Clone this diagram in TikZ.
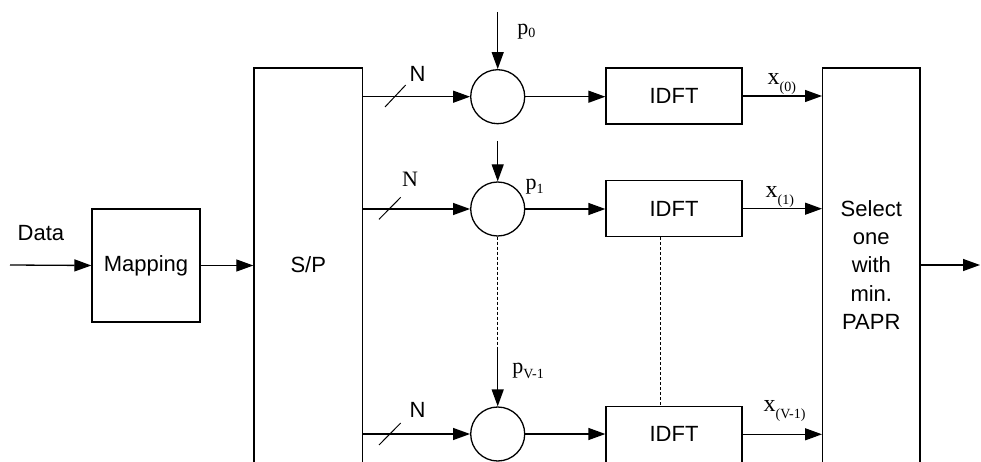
\documentclass[tikz,border=0pt]{standalone}
\usepackage{fontspec}
\setmainfont{Liberation Serif}
\newfontfamily\arialf{Liberation Sans}
\usetikzlibrary{arrows.meta}
\newcommand{\sublab}[4]{{\fontsize{#3}{#3}\selectfont #1}\raisebox{-#4pt}{\fontsize{14}{14}\selectfont #2}}

\begin{document}
\begin{tikzpicture}[x=1pt,y=-1pt,
  line width=1.3pt,
  arr/.style={-{Triangle[length=17pt,width=12pt]}},
  blk/.style={draw,inner sep=0pt,font=\arialf\fontsize{22}{28.3}\selectfont},
  mult/.style={draw,circle,inner sep=0pt,minimum size=54pt},
  sans/.style={font=\arialf\fontsize{22}{28.3}\selectfont,inner sep=0pt},
  serif/.style={inner sep=0pt,anchor=base west},
  slash/.style={line width=1pt},
  dsh/.style={line width=1pt,dash pattern=on 3pt off 2pt}
]
\clip (0,0) rectangle (981,462);

% blocks
\node[blk,minimum width=108pt,minimum height=113pt] (map) at (146,265.5) {Mapping};
\node[blk,minimum width=108.7pt,minimum height=420pt] (sp) at (308.3,278) {};
\node[sans] (spt) at (308.3,265) {S/P};
\node[mult] (c0) at (497.7,96.7) {};
\node[mult] (c1) at (497.7,209) {};
\node[mult] (c2) at (497.7,434) {};
\node[blk,minimum width=136pt,minimum height=56pt] (f0) at (674,96) {IDFT};
\node[blk,minimum width=136pt,minimum height=56pt] (f1) at (674,208.7) {IDFT};
\node[blk,minimum width=136pt,minimum height=56pt] (f2) at (674,434.3) {IDFT};
\node[blk,minimum width=97.3pt,minimum height=420pt] (sel) at (871.3,278) {};
\node[sans,align=center] (selt) at (871.3,265) {Select\\one\\with\\min.\\PAPR};

% input
\node[sans,anchor=base west] (dat) at (17,240.7) {Data};
\coordinate (din) at (10,265);
\draw[arr] (din) -- (map.west);
\draw[arr] (map.east) -- (map.east -| sp.west);

% S/P to multipliers
\draw[arr] (c0.west -| sp.east) -- (c0.west);
\draw[arr] (c1.west -| sp.east) -- (c1.west);
\draw[arr] (c2.west -| sp.east) -- (c2.west);
\draw[slash] (385,107) -- (405.7,85);
\draw[slash] (379,219.3) -- (400.7,197.3);
\draw[slash] (379,445) -- (400.7,423);
\node[sans] (n0) at (417.5,73.5) {N};
\node[inner sep=0pt,font=\fontsize{22}{22}\selectfont] (n1) at (410,179) {N};
\node[sans] (n2) at (417.5,409.5) {N};

% phase vectors
\coordinate (p0s) at (497.7,12);
\draw[arr] (p0s) -- (c0.north);
\node[serif] (p0) at (516.7,35) {\sublab{p}{0}{22}{3}};
\coordinate (p1s) at (497.7,141);
\draw[arr] (p1s) -- (c1.north);
\node[serif] (p1) at (525,190) {\sublab{p}{1}{22}{3}};
\coordinate (cm) at (497.7,350);
\draw[dsh] (c1.south) -- (cm);
\draw[arr] (cm) -- (c2.north);
\node[serif] (p2) at (511.7,373.5) {\sublab{p}{V-1}{22}{5}};

% multipliers to IDFT
\draw[arr] (c0.east) -- (c0.east -| f0.west);
\draw[arr] (c1.east) -- (c1.east -| f1.west);
\draw[arr] (c2.east) -- (c2.east -| f2.west);
\draw[dsh] ([xshift=-13.7pt]f1.south) -- ([xshift=-13.7pt]f2.north);

% IDFT to select
\draw[arr] (f0.east) -- (f0.east -| sel.west);
\draw[arr] (f1.east) -- (f1.east -| sel.west);
\draw[arr] (f2.east) -- (f2.east -| sel.west);
\node[serif] (x0) at (767,85) {\sublab{x}{(0)}{24}{7}};
\node[serif] (x1) at (765,198) {\sublab{x}{(1)}{24}{6}};
\node[serif] (x2) at (763,411.7) {\sublab{x}{(V-1)}{24}{7}};

% output
\coordinate (out) at (980,265);
\draw[arr] (sel.east |- selt) -- (out);
\end{tikzpicture}
\end{document}
